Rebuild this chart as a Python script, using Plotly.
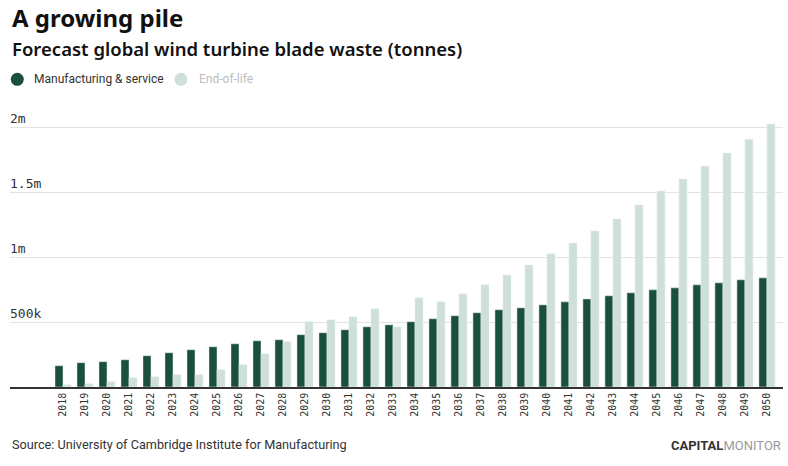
import plotly.graph_objects as go

years = [str(y) for y in range(2018, 2051)]
manufacturing = [164e3, 187e3, 195e3, 210e3, 241e3, 264e3, 287e3, 310e3, 333e3, 356e3, 364e3,
                 403e3, 418e3, 441e3, 464e3, 479e3, 503e3, 526e3, 549e3, 572e3, 595e3, 610e3,
                 633e3, 656e3, 679e3, 703e3, 726e3, 749e3, 764e3, 787e3, 803e3, 826e3, 841e3]
end_of_life = [18e3, 26e3, 41e3, 72e3, 79e3, 95e3, 95e3, 133e3, 172e3, 256e3, 349e3,
               503e3, 518e3, 541e3, 603e3, 464e3, 687e3, 656e3, 718e3, 787e3, 864e3, 941e3,
               1026e3, 1110e3, 1203e3, 1295e3, 1403e3, 1510e3, 1603e3, 1703e3, 1803e3, 1910e3, 2026e3]
ytick_vals = [500e3, 1e6, 1.5e6, 2e6]
ytick_text = ["500k", "1m", "1.5m", "2m"]
series_names = ["Manufacturing & service", "End-of-life"]

DARK = "#1b4f3d"
LIGHT = "#cfe0d9"
SANS = "Noto Sans, Open Sans, sans-serif"
NARROW = "Roboto, sans-serif"
MONO = "DejaVu Sans Mono, Liberation Mono, monospace"

fig = go.Figure()
fig.add_trace(go.Bar(x=years, y=manufacturing, name=series_names[0],
                     marker_color=DARK, showlegend=False))
fig.add_trace(go.Bar(x=years, y=end_of_life, name=series_names[1],
                     marker_color=LIGHT, showlegend=False))

W, H = 788, 466
L, R, T, B = 10, 5, 107.5, 79
ph = H - T - B
pw = W - L - R

def py(ypx):
    return (H - B - ypx) / ph

def px(xpx):
    return (xpx - L) / pw

# custom legend (circle markers + text)
legend_items = [(series_names[0], DARK, "#333", 17.3, 32), (series_names[1], LIGHT, "#bdbdbd", 181, 196.5)]
shapes = []
annotations = []
for name, col, tcol, cx, tx in legend_items:
    shapes.append(dict(type="circle", xref="paper", yref="paper",
                       xsizemode="pixel", ysizemode="pixel",
                       xanchor=px(cx), yanchor=py(78.8),
                       x0=-6.5, x1=6.5, y0=-6.5, y1=6.5,
                       fillcolor=col, line=dict(width=0)))
    annotations.append(dict(text=name, x=px(tx), xref="paper", y=py(78.5), yref="paper",
                            xanchor="left", yanchor="middle", showarrow=False,
                            font=dict(family=NARROW, size=12, color=tcol)))

annotations += [
    dict(text="<b>A growing pile</b>", x=0, xref="paper", y=py(17), yref="paper",
         xanchor="left", yanchor="middle", showarrow=False,
         font=dict(family=SANS, size=24, color="#111")),
    dict(text="Forecast global wind turbine blade waste (tonnes)", x=0, xref="paper",
         y=py(48), yref="paper", xanchor="left", yanchor="middle", showarrow=False,
         font=dict(family=SANS, size=18.5, color="#111", weight=600)),
    dict(text="Source: University of Cambridge Institute for Manufacturing", x=0, xref="paper",
         y=py(445), yref="paper", xanchor="left", yanchor="middle", showarrow=False,
         font=dict(family=NARROW, size=12.7, color="#333")),
    dict(text="<b>CAPITAL</b><span style='color:#9a9a9a'>MONITOR</span>", x=1, xref="paper",
         y=py(446), yref="paper", xanchor="right", yanchor="middle", showarrow=False,
         font=dict(family=NARROW, size=13, color="#333")),
]

fig.update_layout(
    width=W, height=H,
    margin=dict(l=L, r=R, t=T, b=B, pad=0),
    paper_bgcolor="white", plot_bgcolor="white",
    barmode="group", bargap=0.27, bargroupgap=0,
    font=dict(family=SANS, color="#222"),
    showlegend=False,
    xaxis=dict(type="category", range=[-2.41, 32.73], tickangle=-90,
               tickfont=dict(family=MONO, size=10, color="#333"),
               showline=True, linecolor="#333", linewidth=1.5, ticks="", showgrid=False,
               fixedrange=True, automargin=False),
    yaxis=dict(range=[0, 2.15e6], tickvals=ytick_vals, ticktext=ytick_text,
               ticklabelposition="inside top", ticklabelstandoff=-3,
               tickfont=dict(family=MONO, size=13, color="#333"),
               showgrid=True, gridcolor="#e3e3e3", gridwidth=1, zeroline=False,
               ticks="", ticklen=0, showline=False, fixedrange=True, automargin=False),
    shapes=shapes,
    annotations=annotations,
)

fig.write_html("out.html", config={"displayModeBar": False},
               post_script="document.body.style.margin='0';document.body.style.overflow='hidden';")
